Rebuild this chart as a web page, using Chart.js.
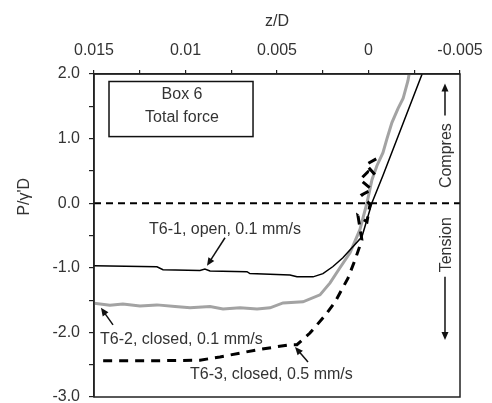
<!DOCTYPE html>
<html><head><meta charset="utf-8">
<script src="https://cdn.jsdelivr.net/npm/chart.js@4/dist/chart.umd.min.js"></script>
<style>html,body{margin:0;padding:0;background:#fff}</style>
</head><body>
<canvas id="c" width="492" height="403" style="display:block;width:492px;height:403px"></canvas>
<script>
// ---- data (z/D, P/γ'D) ----
const t61Z = [0.015, 0.01156, 0.01123, 0.00921, 0.00894, 0.00866, 0.00664, 0.00648, 0.00429, 0.00391, 0.00303, 0.00249, 0.00194, 0.0014, 0.00036, -0.00019, -0.00079, -0.00293];
const t61P = [-0.97, -0.985, -1.03, -1.04, -1.02, -1.05, -1.06, -1.09, -1.11, -1.14, -1.14, -1.09, -0.98, -0.845, -0.52, 0.008, 0.43, 2.0];

const t62Z = [0.015, 0.01413, 0.01342, 0.01249, 0.01156, 0.01057, 0.00975, 0.00866, 0.00795, 0.00702, 0.00609, 0.00538, 0.00467, 0.00358, 0.00265, 0.0021, 0.00156, 0.00101, 0.00047, 0.00008, -0.00019, -0.00046, -0.00079, -0.00101, -0.00128, -0.00161, -0.00189, -0.00216, -0.00222];
const t62P = [-1.547, -1.58, -1.56, -1.59, -1.574, -1.60, -1.62, -1.60, -1.636, -1.62, -1.636, -1.62, -1.543, -1.527, -1.419, -1.233, -1.0, -0.767, -0.41, 0.008, 0.364, 0.58, 0.783, 1.0, 1.248, 1.465, 1.62, 1.9, 2.0];

const t63Z = [0.0145, 0.01194, 0.00921, 0.00812, 0.00609, 0.00429, 0.00391, 0.0032, 0.00238, 0.00183, 0.00112, 0.00074, 0.00036, 0.000575, 0.000083, -0.00008, 0.000355, -0.00019, 0.000465, 0.000027, -0.00036, 0.000137, -0.00063];
const t63P = [-2.44, -2.44, -2.43, -2.38, -2.27, -2.19, -2.19, -2.01, -1.74, -1.53, -1.16, -0.88, -0.57, -0.194, -0.287, -0.023, 0.132, 0.21, 0.364, 0.488, 0.44, 0.597, 0.72];

const zeroZ = [0.015, -0.005];
const zeroP = [0, 0];

const xTickValues = [0.015, 0.01, 0.005, 0, -0.005];
const xTickLabels = ['0.015', '0.01', '0.005', '0', '-0.005'];
const yTickValues = [2, 1, 0, -1, -2, -3];
const yTickLabels = ['2.0', '1.0', '0.0', '-1.0', '-2.0', '-3.0'];

const seriesNames = ['T6-1, open, 0.1 mm/s', 'T6-2, closed, 0.1 mm/s', 'T6-3, closed, 0.5 mm/s'];
const boxLines = ['Box 6', 'Total force'];

const pts = (xs, ys) => xs.map((v, i) => ({x: v, y: ys[i]}));
const FONT = "'Liberation Sans', Arial, sans-serif";

const annot = {
  id: 'annot',
  afterDraw(chart) {
    const {ctx, chartArea: a, scales: {x, y}} = chart;
    const X = v => x.getPixelForValue(v), Y = v => y.getPixelForValue(v);
    ctx.save();
    ctx.strokeStyle = '#222'; ctx.lineWidth = 1.5;
    ctx.strokeRect(a.left, a.top, a.right - a.left, a.bottom - a.top);
    // label box
    const bx1 = X(0.01418), by1 = Y(1.884), bx2 = X(0.00631), by2 = Y(1.031);
    ctx.fillStyle = '#fff';
    ctx.fillRect(bx1, by1, bx2 - bx1, by2 - by1);
    ctx.strokeStyle = '#111';
    ctx.strokeRect(bx1, by1, bx2 - bx1, by2 - by1);
    ctx.fillStyle = '#333';
    ctx.font = '16px ' + FONT;
    ctx.textAlign = 'center'; ctx.textBaseline = 'middle';
    ctx.fillText(boxLines[0], X(0.01019), Y(1.682));
    ctx.fillText(boxLines[1], X(0.01019), Y(1.326));
    // series labels
    ctx.fillText(seriesNames[0], X(0.00784), Y(-0.411));
    ctx.textAlign = 'left';
    ctx.fillText(seriesNames[1], X(0.01467), Y(-2.116));
    ctx.fillText(seriesNames[2], X(0.00975), Y(-2.659));
    // arrows
    const arrow = (z1, p1, z2, p2) => {
      const x1 = X(z1), y1 = Y(p1), x2 = X(z2), y2 = Y(p2);
      const ang = Math.atan2(y2 - y1, x2 - x1);
      const L = 8, W = 3.5;
      ctx.strokeStyle = '#111'; ctx.fillStyle = '#111'; ctx.lineWidth = 1.5;
      ctx.beginPath(); ctx.moveTo(x1, y1);
      ctx.lineTo(x2 - Math.cos(ang) * L * 0.8, y2 - Math.sin(ang) * L * 0.8); ctx.stroke();
      ctx.beginPath();
      ctx.moveTo(x2, y2);
      ctx.lineTo(x2 - Math.cos(ang) * L - Math.sin(ang) * W, y2 - Math.sin(ang) * L + Math.cos(ang) * W);
      ctx.lineTo(x2 - Math.cos(ang) * L + Math.sin(ang) * W, y2 - Math.sin(ang) * L - Math.cos(ang) * W);
      ctx.closePath(); ctx.fill();
    };
    arrow(0.00784, -0.535, 0.008825, -0.969);
    arrow(0.01396, -1.884, 0.01462, -1.62);
    arrow(0.003306, -2.457, 0.004016, -2.225);
    arrow(-0.00418, 1.357, -0.00418, 1.853);
    arrow(-0.00418, -1.14, -0.00418, -2.116);
    // rotated side labels
    ctx.fillStyle = '#333';
    ctx.textAlign = 'center';
    const rot = (txt, px, py) => { ctx.save(); ctx.translate(px, py); ctx.rotate(-Math.PI / 2); ctx.fillText(txt, 0, 0); ctx.restore(); };
    rot('Compres', X(-0.00429), Y(0.736));
    rot('Tension', X(-0.00429), Y(-0.643));
    // y axis title
    rot("P/γ'D", 25, Y(0.1));
    ctx.restore();
  }
};

new Chart(document.getElementById('c'), {
  type: 'line',
  data: {
    datasets: [
      {data: pts(t61Z, t61P), borderColor: '#000', borderWidth: 1.5, pointRadius: 0, order: 0},
      {data: pts(t63Z, t63P), borderColor: '#000', borderWidth: 3, borderDash: [9, 7], pointRadius: 0, order: 1},
      {data: pts(t62Z, t62P), borderColor: '#a3a3a3', borderWidth: 3, pointRadius: 0, order: 2},
      {data: pts(zeroZ, zeroP), borderColor: '#000', borderWidth: 2, borderDash: [7, 5], pointRadius: 0, order: 3}
    ]
  },
  options: {
    responsive: false, animation: false, devicePixelRatio: 1,
    layout: {padding: {left: 0, top: 0, right: 32, bottom: 6}},
    plugins: {legend: {display: false}, tooltip: {enabled: false}},
    scales: {
      x: {
        type: 'linear', position: 'top', reverse: true, min: -0.005, max: 0.015,
        afterBuildTicks(s) { s.ticks = [0.015, 0.0125, 0.01, 0.0075, 0.005, 0.0025, 0, -0.0025, -0.005].map(v => ({value: v})); },
        ticks: {
          autoSkip: false, maxRotation: 0, padding: 10, color: '#333', font: {size: 16, family: FONT},
          callback(v) { const i = xTickValues.findIndex(t => Math.abs(t - v) < 1e-7); return i >= 0 ? xTickLabels[i] : ''; }
        },
        grid: {drawOnChartArea: false, tickLength: 4, color: '#222', lineWidth: 1.2},
        border: {display: true, color: '#222', width: 1.5},
        title: {display: true, text: 'z/D', color: '#333', font: {size: 16, family: FONT}, padding: {top: 12, bottom: 0}},
        afterFit(s) { s.height = 74; s.paddingLeft = 0; s.paddingRight = 0; }
      },
      y: {
        type: 'linear', position: 'left', min: -3, max: 2,
        afterBuildTicks(s) { s.ticks = [2, 1.5, 1, 0.5, 0, -0.5, -1, -1.5, -2, -2.5, -3].map(v => ({value: v})); },
        ticks: {
          autoSkip: false, padding: 9, color: '#333', font: {size: 16, family: FONT},
          callback(v) { const i = yTickValues.findIndex(t => Math.abs(t - v) < 1e-7); return i >= 0 ? yTickLabels[i] : ''; }
        },
        grid: {drawOnChartArea: false, tickLength: 5, color: '#222', lineWidth: 1.2},
        border: {display: true, color: '#222', width: 1.5},
        afterFit(s) { s.width = 94; s.paddingTop = 0; s.paddingBottom = 0; }
      }
    }
  },
  plugins: [annot]
});
</script>
</body></html>
